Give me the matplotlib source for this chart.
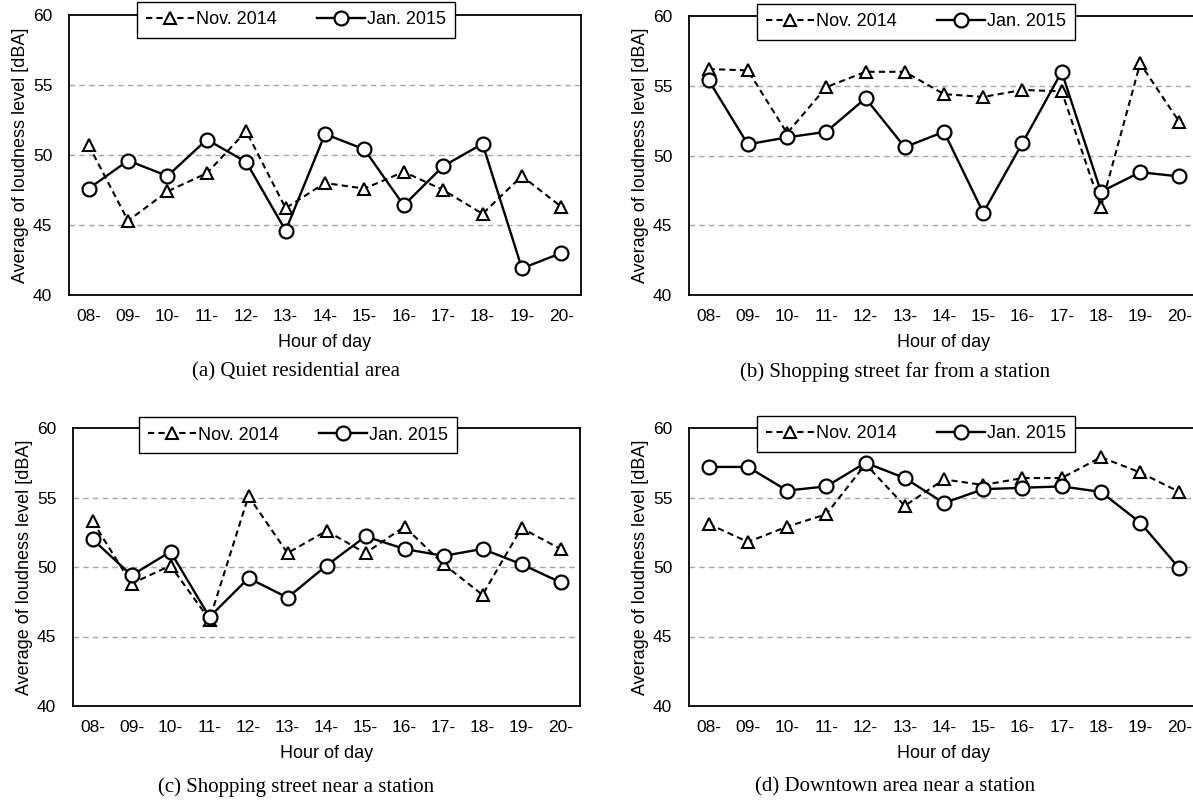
import numpy as np
import matplotlib
matplotlib.use('Agg')
import matplotlib.pyplot as plt

plt.rcParams['font.family'] = ['Liberation Sans', 'DejaVu Sans']

hours = ['08-', '09-', '10-', '11-', '12-', '13-', '14-', '15-', '16-', '17-', '18-', '19-', '20-']

# (a) quiet residential area
nov_a = [50.7, 45.3, 47.4, 48.7, 51.7, 46.2, 48.0, 47.6, 48.8, 47.5, 45.8, 48.5, 46.3]
jan_a = [47.6, 49.6, 48.5, 51.1, 49.5, 44.6, 51.5, 50.4, 46.4, 49.2, 50.8, 41.9, 43.0]
# (b) shopping street far from a station
nov_b = [56.2, 56.1, 51.6, 54.9, 56.0, 56.0, 54.4, 54.2, 54.7, 54.6, 46.3, 56.6, 52.4]
jan_b = [55.4, 50.8, 51.3, 51.7, 54.1, 50.6, 51.7, 45.9, 50.9, 56.0, 47.4, 48.8, 48.5]
# (c) shopping street near a station
nov_c = [53.3, 48.8, 50.1, 46.2, 55.1, 51.0, 52.6, 51.0, 52.9, 50.2, 48.0, 52.8, 51.3]
jan_c = [52.0, 49.4, 51.1, 46.4, 49.2, 47.8, 50.1, 52.2, 51.3, 50.8, 51.3, 50.2, 48.9]
# (d) downtown area near a station
nov_d = [53.1, 51.8, 52.9, 53.8, 57.4, 54.4, 56.3, 55.9, 56.4, 56.4, 57.9, 56.8, 55.4]
jan_d = [57.2, 57.2, 55.5, 55.8, 57.5, 56.4, 54.6, 55.6, 55.7, 55.8, 55.4, 53.2, 49.9]

captions = ['(a) Quiet residential area', '(b) Shopping street far from a station',
            '(c) Shopping street near a station', '(d) Downtown area near a station']
series = [(nov_a, jan_a), (nov_b, jan_b), (nov_c, jan_c), (nov_d, jan_d)]

W, H = 1193, 801
fig = plt.figure(figsize=(W / 100, H / 100), dpi=100)

# axes boxes in pixels: left, top, right, bottom
boxes = [(69, 15, 581, 295), (689, 16, 1199, 295),
         (73, 428, 580, 706), (689, 428, 1199, 706)]
legend_pos = [(296, 20), (916, 22), (298, 435), (916, 434)]
caption_pos = [(296, 372), (895, 372), (296, 787), (895, 787)]

x = np.arange(len(hours))
for i, (l, t, r, b) in enumerate(boxes):
    ax = fig.add_axes([l / W, 1 - b / H, (r - l) / W, (b - t) / H])
    nov, jan = series[i]
    ax.plot(x, nov, color='black', lw=1.5, ls=(0, (3, 2)), marker='^', ms=9,
            mfc='white', mec='black', mew=1.5, label='Nov. 2014', zorder=3)
    ax.plot(x, jan, color='black', lw=1.7, ls='-', marker='o', ms=10,
            mfc='white', mec='black', mew=1.6, label='Jan. 2015', zorder=4)
    ax.set_xlim(-0.5, len(hours) - 0.5)
    ax.set_ylim(40, 60)
    ax.set_yticks([40, 45, 50, 55, 60])
    ax.set_xticks(x)
    ax.set_xticklabels(hours)
    for yv in [45, 50, 55]:
        ax.axhline(yv, color='#a6a6a6', lw=1.0, ls=(0, (4, 3)), zorder=1)
    ax.tick_params(length=0, labelsize=12.5)
    ax.tick_params(axis='x', pad=10)
    ax.tick_params(axis='y', pad=12)
    for s in ax.spines.values():
        s.set_linewidth(1.3)
        s.set_color('black')
    ax.set_ylabel('Average of loudness level [dBA]', fontsize=13, labelpad=3)
    ax.set_xlabel('Hour of day', fontsize=13, labelpad=7)
    cx, cy = legend_pos[i]
    leg = ax.legend(loc='center', bbox_to_anchor=(cx / W, 1 - cy / H),
                    bbox_transform=fig.transFigure, ncol=2, fontsize=13,
                    frameon=True, fancybox=False, edgecolor='black',
                    framealpha=1, handlelength=2.7, handletextpad=0.1,
                    columnspacing=2.2, borderpad=0.5, borderaxespad=0)
    leg.get_frame().set_linewidth(1.0)
    leg.set_zorder(10)
    px, py = caption_pos[i]
    fig.text(px / W, 1 - py / H, captions[i], ha='center', va='center',
             fontsize=15, family='Liberation Serif')

fig.savefig('out.png', dpi=100)
